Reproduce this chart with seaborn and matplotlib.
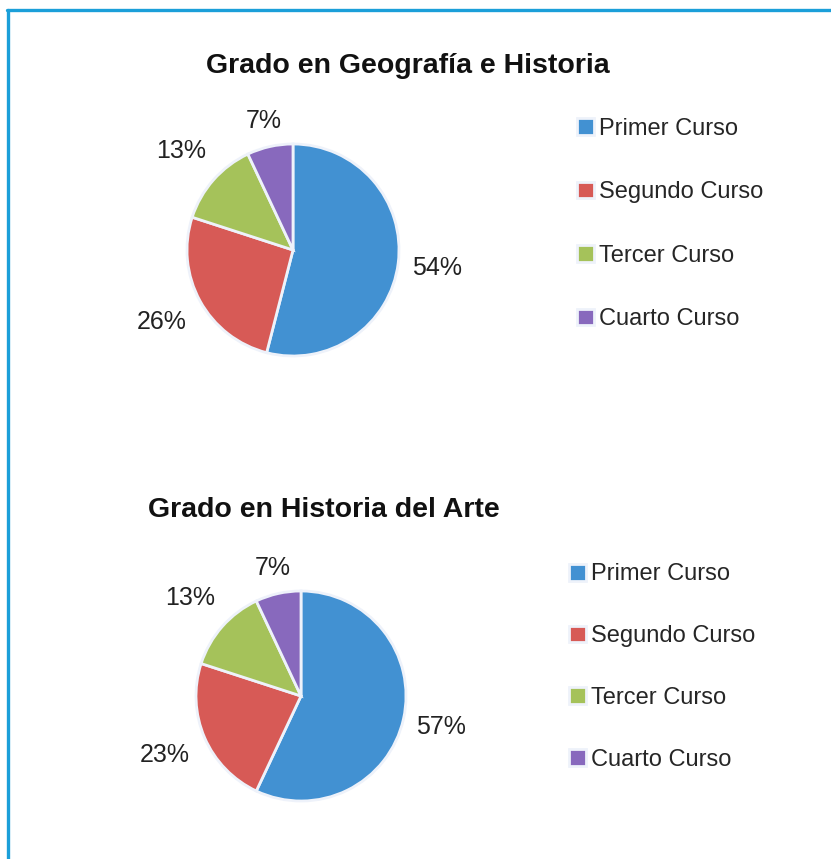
import matplotlib
matplotlib.use("Agg")
import matplotlib.pyplot as plt
from matplotlib.lines import Line2D
import numpy as np
import seaborn as sns

sns.set_theme(style="white")
plt.rcParams["font.family"] = ["Liberation Sans", "DejaVu Sans"]

CURSOS = ["Primer Curso", "Segundo Curso", "Tercer Curso", "Cuarto Curso"]
GEO_HIST = [54, 26, 13, 7]
HIST_ARTE = [57, 23, 13, 7]
TITLES = ["Grado en Geografía e Historia", "Grado en Historia del Arte"]

COLORS = sns.color_palette(["#4291d2", "#d75a56", "#a5c25a", "#8869bd"])
BORDER = "#1b9fd9"

W, H = 831, 859
LABEL_DIST = [1.37, 1.41, 1.41, 1.245]


def px_axes(fig, cx, cy, r):
    """Square axes centred on (cx, cy) in image pixels (y from top), pie radius r px."""
    half = 1.25 * r
    return fig.add_axes([(cx - half) / W, (H - cy - half) / H, 2 * half / W, 2 * half / H])


def draw_pie(ax, values):
    wedges, _, autotexts = ax.pie(
        values, colors=COLORS, startangle=90, counterclock=False,
        autopct="%1.0f%%", pctdistance=1.35,
        wedgeprops=dict(edgecolor="#eef2fa", linewidth=2),
        textprops=dict(fontsize=18, color="#222222"),
    )
    for w, t, d in zip(wedges, autotexts, LABEL_DIST):
        ang = np.deg2rad((w.theta1 + w.theta2) / 2)
        t.set_position((d * np.cos(ang), d * np.sin(ang)))
    ax.set_xlim(-1.25, 1.25)
    ax.set_ylim(-1.25, 1.25)
    ax.set_aspect("auto")
    return wedges


def add_legend(fig, handles, x, y, spacing):
    fig.legend(handles, CURSOS, loc="center left", bbox_to_anchor=(x / W, 1 - y / H),
               frameon=False, fontsize=17, handlelength=0.7, handleheight=0.7,
               handletextpad=0.25, labelspacing=spacing, borderpad=0, borderaxespad=0)


fig = plt.figure(figsize=(W / 100, H / 100), dpi=100)
fig.patch.set_facecolor("white")

# top chart
ax1 = px_axes(fig, 293, 250, 106)
w1 = draw_pie(ax1, GEO_HIST)
fig.text(408 / W, 1 - 73 / H, TITLES[0], ha="center", va="baseline",
         fontsize=20.5, fontweight="bold", color="#111111")
add_legend(fig, w1, 577, 224, 1.76)

# bottom chart
ax2 = px_axes(fig, 301, 696, 105)
w2 = draw_pie(ax2, HIST_ARTE)
fig.text(324 / W, 1 - 517 / H, TITLES[1], ha="center", va="baseline",
         fontsize=20.5, fontweight="bold", color="#111111")
add_legend(fig, w2, 569, 667, 1.68)

# frame lines (top and left edge)
fig.add_artist(Line2D([8 / W, 8 / W], [0, 1 - 9.5 / H], transform=fig.transFigure,
                      color=BORDER, linewidth=2.4))
fig.add_artist(Line2D([7 / W, 1], [1 - 9.5 / H, 1 - 9.5 / H], transform=fig.transFigure,
                      color=BORDER, linewidth=2.4))

fig.savefig("out.png", dpi=100)
